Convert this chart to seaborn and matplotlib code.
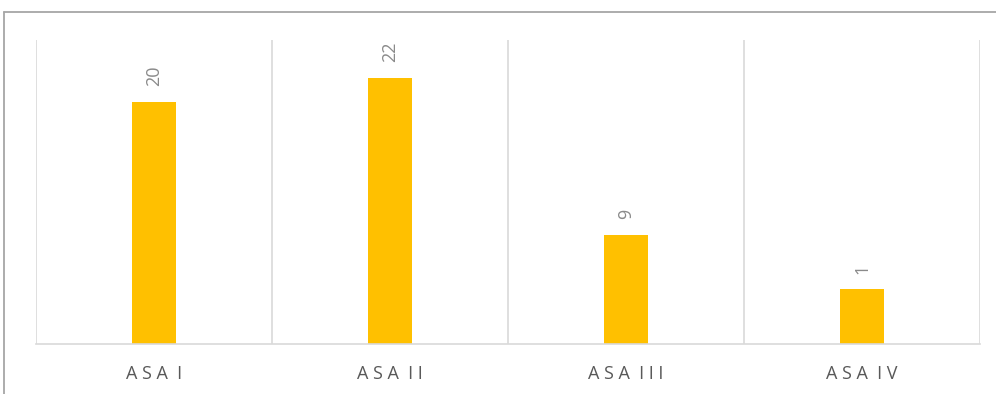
import matplotlib
matplotlib.use("Agg")
import matplotlib.pyplot as plt
import seaborn as sns
import pandas as pd
from matplotlib.lines import Line2D

categories = ["ASA I", "ASA II", "ASA III", "ASA IV"]
tick_labels = ["A S A  I", "A S A  I I", "A S A  I I I", "A S A  I V"]
values = [20, 22, 9, 4.5]
data_labels = ["20", "22", "9", "1"]

sns.set_theme(style="white")
plt.rcParams['font.family'] = ['Open Sans', 'DejaVu Sans']

W, H = 996, 394
fig = plt.figure(figsize=(W / 100, H / 100), dpi=100)
ax = fig.add_axes([36 / W, (H - 344) / H, (980 - 36) / W, (344 - 40) / H])

df = pd.DataFrame({"cat": categories, "val": values})
sns.barplot(data=df, x="cat", y="val", color="#FFC000", saturation=1,
            width=0.186, ax=ax, linewidth=0)

ax.set_xlim(-0.5, 3.5)
ax.set_ylim(0, 25.1)
ax.set_xlabel("")
ax.set_ylabel("")
ax.set_yticks([])
ax.set_xticks(range(len(categories)))
ax.set_xticklabels(tick_labels, color="#595959", fontsize=13)
ax.tick_params(axis="x", length=0, pad=15)
ax.set_xticks([-0.5, 0.5, 1.5, 2.5, 3.5], minor=True)
ax.grid(False)
ax.xaxis.grid(True, which="minor", color="#d9d9d9", linewidth=1.2)
ax.tick_params(axis="x", which="minor", length=0)
for s in ["top", "left", "right"]:
    ax.spines[s].set_visible(False)
ax.spines["bottom"].set_color("#d9d9d9")
ax.spines["bottom"].set_linewidth(1.2)

for i, (v, lab) in enumerate(zip(values, data_labels)):
    ax.annotate(lab, xy=(i, v), xytext=(0, 11.5), textcoords="offset points",
                rotation=90, ha="center", va="bottom", color="#8a8a8a",
                fontsize=13)

# outer chart border (top and left visible)
fig.add_artist(Line2D([3.5 / W, 3.5 / W], [0, (H - 12) / H], color="#a6a6a6",
                      linewidth=1.3, transform=fig.transFigure))
fig.add_artist(Line2D([3.5 / W, 1], [(H - 12) / H, (H - 12) / H], color="#a6a6a6",
                      linewidth=1.3, transform=fig.transFigure))

fig.savefig("out.png", dpi=100)
